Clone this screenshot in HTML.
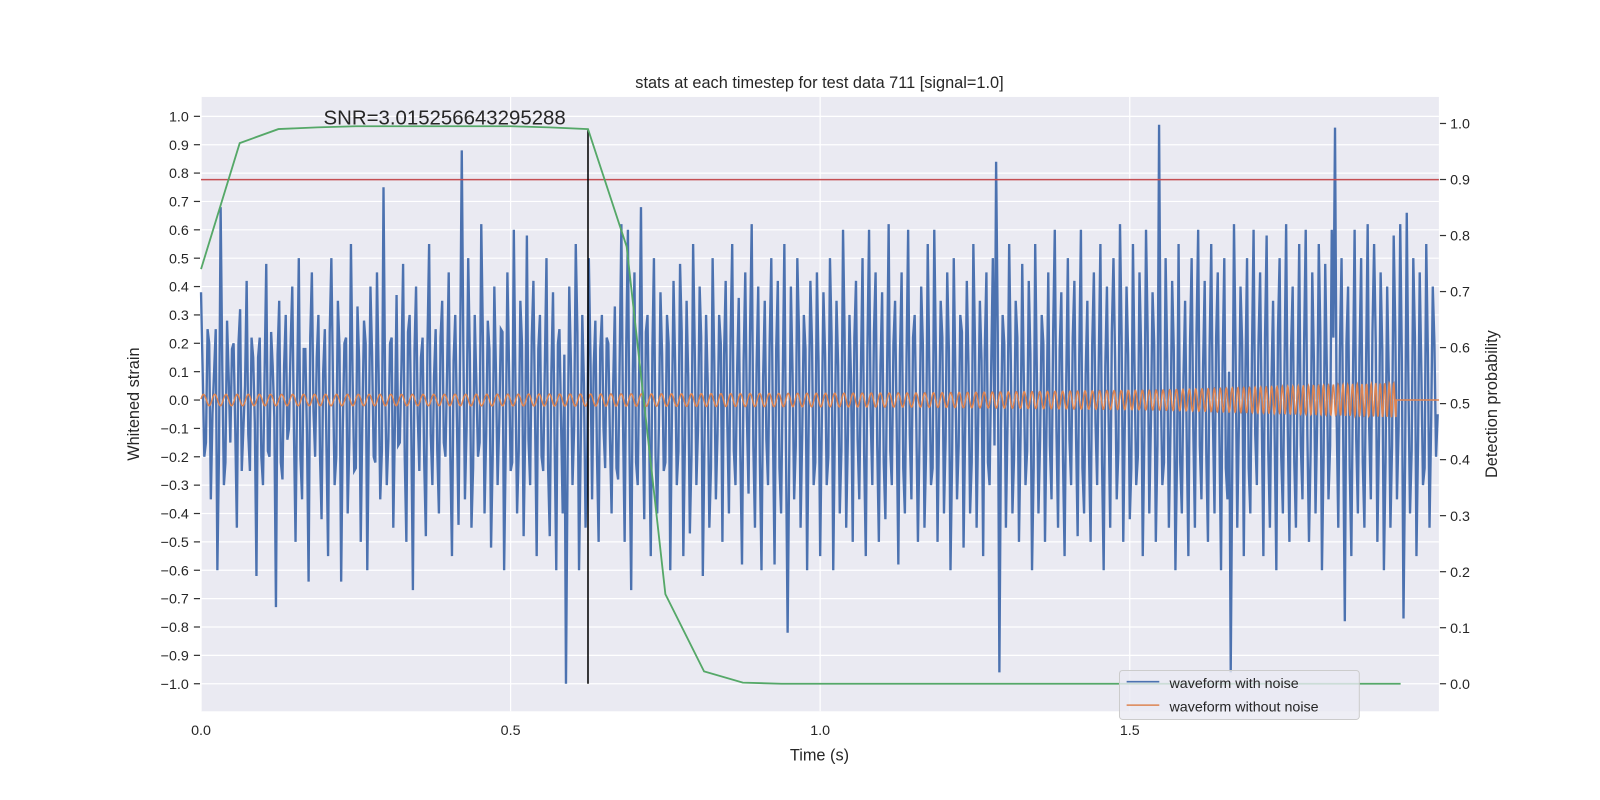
<!DOCTYPE html>
<html><head><meta charset="utf-8"><style>
html,body{margin:0;padding:0;background:#fff;overflow:hidden;width:1600px;height:800px;}
svg{display:block;}
svg text{font-family:"Liberation Sans","DejaVu Sans",sans-serif;fill:#262626;}
</style></head><body>
<svg id="chart" width="1600" height="800" xmlns="http://www.w3.org/2000/svg">
<g transform="scale(1.0205)">
<rect x="197" y="95" width="1213" height="602" fill="#EAEAF2"/>
<g id="grid"></g>
<g id="series"></g>
<g id="axes"></g>
<text x="803" y="86" text-anchor="middle" font-size="16">stats at each timestep for test data 711 [signal=1.0]</text>
<text x="317" y="122" font-size="20">SNR=3.015256643295288</text>
<text x="803" y="745" text-anchor="middle" font-size="16">Time (s)</text>
<text transform="translate(136,396) rotate(-90)" text-anchor="middle" font-size="16">Whitened strain</text>
<text transform="translate(1467,396) rotate(-90)" text-anchor="middle" font-size="16">Detection probability</text>
<g>
<rect x="1097" y="657" width="235" height="48" rx="3" fill="#EAEAF2" fill-opacity="0.8" stroke="#ccc"/>
<line x1="1104" y1="668" x2="1136" y2="668" stroke="#4C72B0" stroke-width="1.5"/>
<text x="1146" y="674" font-size="14">waveform with noise</text>
<line x1="1104" y1="691" x2="1136" y2="691" stroke="#DD8452" stroke-width="1.5"/>
<text x="1146" y="697" font-size="14">waveform without noise</text>
</g>
</g>
</svg>
<script>
const noisy=[0.38,-0.2,0.25,-0.35,0.1,-0.6,0.68,-0.3,0.28,-0.15,0.2,-0.45,0.32,-0.1,0.42,-0.25,0.15,-0.62,0.22,-0.3,
0.48,-0.2,0.12,-0.73,0.35,-0.28,0.3,-0.1,0.4,-0.5,0.5,-0.35,0.18,-0.64,0.45,-0.2,0.3,-0.42,0.25,-0.55,
0.5,-0.3,0.35,-0.64,0.2,-0.4,0.55,-0.25,0.33,-0.5,0.28,-0.6,0.4,-0.2,0.45,-0.35,0.75,-0.3,0.2,-0.45,
0.37,-0.15,0.48,-0.5,0.3,-0.67,0.4,-0.25,0.22,-0.48,0.55,-0.3,0.25,-0.4,0.35,-0.2,0.45,-0.55,0.3,-0.44,
0.88,-0.35,0.5,-0.45,0.3,-0.2,0.62,-0.4,0.28,-0.52,0.4,-0.3,0.25,-0.6,0.45,-0.25,0.6,-0.4,0.35,-0.48,
0.58,-0.3,0.42,-0.55,0.3,-0.25,0.5,-0.48,0.38,-0.6,0.25,-0.4,-1.0,0.4,-0.3,0.55,-0.6,0.3,-0.45,0.5,
-0.35,0.28,-0.5,0.3,-0.24,0.2,-0.4,0.33,-0.28,0.62,-0.5,0.6,-0.67,0.45,-0.3,0.68,-0.42,0.3,-0.55,0.5,
-0.4,0.38,-0.25,0.3,-0.6,0.42,-0.3,0.48,-0.55,0.35,-0.47,0.55,-0.3,0.4,-0.62,0.3,-0.45,0.5,-0.35,0.3,
-0.5,0.42,-0.4,0.55,-0.3,0.36,-0.58,0.45,-0.33,0.62,-0.45,0.4,-0.6,0.35,-0.3,0.5,-0.58,0.42,-0.4,0.55,
-0.82,0.4,-0.35,0.5,-0.45,0.3,-0.6,0.42,-0.3,0.45,-0.55,0.38,-0.3,0.5,-0.6,0.35,-0.4,0.6,-0.45,0.3,
-0.5,0.42,-0.35,0.5,-0.55,0.6,-0.3,0.45,-0.5,0.38,-0.42,0.62,-0.3,0.35,-0.58,0.45,-0.4,0.6,-0.35,0.3,
-0.5,0.4,-0.45,0.55,-0.3,0.6,-0.5,0.35,-0.4,0.45,-0.6,0.5,-0.35,0.3,-0.52,0.42,-0.4,0.55,-0.45,0.35,
-0.55,0.45,-0.3,0.5,0.84,-0.96,0.3,-0.45,0.55,-0.4,0.35,-0.5,0.48,-0.3,0.42,-0.6,0.55,-0.4,0.3,-0.5,
0.45,-0.35,0.6,-0.45,0.38,-0.55,0.5,-0.3,0.42,-0.48,0.6,-0.4,0.35,-0.5,0.45,-0.3,0.55,-0.6,0.4,-0.45,
0.5,-0.35,0.62,-0.5,0.4,-0.42,0.55,-0.3,0.45,-0.55,0.6,-0.4,0.38,-0.5,0.97,-0.3,0.5,-0.45,0.42,-0.6,
0.55,-0.4,0.35,-0.55,0.5,-0.45,0.6,-0.35,0.42,-0.5,0.55,-0.4,0.45,-0.6,0.5,-0.35,-0.96,0.62,-0.45,0.4,
-0.55,0.5,-0.4,0.6,-0.3,0.45,-0.55,0.58,-0.45,0.35,-0.6,0.5,-0.4,0.62,-0.5,0.4,-0.45,0.55,-0.35,0.6,
-0.5,0.45,-0.4,0.55,-0.6,0.48,-0.35,0.6,0.96,-0.45,0.5,-0.78,0.4,-0.55,0.6,-0.4,0.5,-0.45,0.62,-0.35,
0.55,-0.5,0.45,-0.6,0.4,-0.45,0.58,-0.35,0.62,-0.77,0.66,-0.4,0.5,-0.55,0.45,-0.3,0.55,-0.45,0.4,-0.2];
const noisyMid=[0.1,-0.15,0.2,-0.05,0.25,-0.18,0.12,-0.22,0.08,0.18,-0.1,0.2,-0.25,0.05,-0.12,0.22,-0.08,0.15,-0.2,0.1,
-0.18,0.24,-0.06,0.16,-0.22,0.12,-0.14,0.2,-0.1,0.05,-0.2,0.18,-0.12,0.22,-0.04,0.15,-0.2,0.1,-0.16,0.24,
0.06,-0.2,0.18,-0.1,0.22,-0.15,0.08,-0.24,0.14,-0.06,0.2,-0.12,0.16,-0.22,0.1,-0.18,0.04,-0.14,0.22,-0.08,
-0.16,0.12,-0.2,0.24,-0.1,0.18,-0.05,0.15,-0.22,0.2,-0.12,0.08,-0.18,0.22,-0.15,0.1,-0.2,0.14,-0.06,0.18,
0.2,-0.1,0.16,-0.24,0.06,-0.15,0.22,-0.12,0.18,-0.2,0.1,-0.08,0.24,-0.16,0.12,-0.22,0.05,-0.18,0.2,-0.1,
-0.14,0.22,-0.06,0.18,-0.2,0.12,-0.24,0.1,-0.15,0.2,-0.08,0.16,-0.22,0.14,-0.1,0.24,-0.18,0.06,-0.2,0.15,
0.12,-0.2,0.18,-0.1,0.22,-0.14,0.06,-0.24,0.16,-0.08,0.2,-0.18,0.1,-0.22,0.14,-0.05,0.24,-0.12,0.18,-0.2,
-0.1,0.16,-0.22,0.2,-0.06,0.12,-0.18,0.24,-0.14,0.08,-0.2,0.18,-0.1,0.22,-0.16,0.06,-0.24,0.14,-0.12,0.2,
0.16,-0.08,0.22,-0.18,0.1,-0.2,0.14,-0.06,0.24,-0.16,0.12,-0.22,0.08,-0.14,0.2,-0.1,0.18,-0.24,0.06,-0.18,
-0.2,0.1,-0.16,0.24,-0.12,0.18,-0.06,0.2,-0.22,0.14,-0.08,0.16,-0.2,0.22,-0.1,0.12,-0.18,0.24,-0.14,0.06,
0.22,-0.14,0.1,-0.2,0.18,-0.06,0.24,-0.16,0.12,-0.22,0.08,-0.18,0.2,-0.1,0.16,-0.24,0.14,-0.12,0.22,-0.08,
-0.12,0.2,-0.18,0.1,-0.24,0.16,-0.06,0.22,-0.14,0.18,-0.2,0.08,-0.16,0.24,-0.1,0.12,-0.22,0.2,-0.06,0.14,
0.18,-0.22,0.12,-0.16,0.24,-0.1,0.2,-0.08,0.14,-0.2,0.22,-0.12,0.06,-0.18,0.16,-0.24,0.1,-0.14,0.2,-0.06,
-0.16,0.24,-0.1,0.18,-0.2,0.06,-0.14,0.22,-0.12,0.16,-0.24,0.1,-0.18,0.2,-0.08,0.14,-0.22,0.12,-0.06,0.24,
0.14,-0.18,0.22,-0.06,0.16,-0.24,0.1,-0.2,0.18,-0.12,0.24,-0.08,0.2,-0.16,0.06,-0.22,0.14,-0.1,0.18,-0.2,
-0.22,0.08,-0.14,0.2,-0.1,0.24,-0.16,0.12,-0.2,0.18,-0.06,0.22,-0.12,0.14,-0.24,0.1,-0.18,0.16,-0.08,0.2,
0.1,-0.24,0.16,-0.12,0.2,-0.06,0.22,-0.18,0.08,-0.14,0.24,-0.2,0.12,-0.1,0.18,-0.22,0.06,-0.16,0.2,-0.12,
-0.18,0.14,-0.08,0.24,-0.2,0.1,-0.16,0.22,-0.06,0.18,-0.12,0.2,-0.24,0.08,-0.14,0.16,-0.22,0.12,-0.1,0.24,
0.2,-0.12,0.18,-0.22,0.08,-0.16,0.24,-0.1,0.14,-0.2,0.06,-0.18,0.22,-0.14,0.1,-0.24,0.16,-0.08,0.2,-0.05];
const probTimes=[0,0.0625,0.125,0.1875,0.25,0.3125,0.375,0.4375,0.5,0.5625,0.625,0.6875,0.75,0.8125,0.875,0.9375,1.0,1.0625,1.125,1.1875,1.25,1.3125,1.375,1.4375,1.5,1.5625,1.625,1.6875,1.75,1.8125,1.875,1.9375];
const probValues=[0.74,0.965,0.99,0.993,0.995,0.995,0.995,0.995,0.995,0.993,0.99,0.78,0.16,0.022,0.002,0,0,0,0,0,0,0,0,0,0,0,0,0,0,0,0,0];
const leftTicks=[-1.0,-0.9,-0.8,-0.7,-0.6,-0.5,-0.4,-0.3,-0.2,-0.1,0.0,0.1,0.2,0.3,0.4,0.5,0.6,0.7,0.8,0.9,1.0];
const rightTicks=[0.0,0.1,0.2,0.3,0.4,0.5,0.6,0.7,0.8,0.9,1.0];
const xTicks=[0,0.5,1.0,1.5];
const threshold=[0.777];
const markerTime=[0.625];
const chirpAmp=[0.02,0.02,0.022,0.025,0.035,0.06];
const chirpFreq=[55,58,62,70,90,140];
const chirpEnd=[1.93];

const NS='http://www.w3.org/2000/svg';
const X=t=>197+t*606.7, YL=v=>392-v*278, YR=v=>670-v*549;
function mk(tag,attrs,parent){const e=document.createElementNS(NS,tag);for(const k in attrs)e.setAttribute(k,attrs[k]);document.getElementById(parent).appendChild(e);return e;}
const fmt=v=>(v<0?'\u2212':'')+Math.abs(v).toFixed(1);
leftTicks.forEach(v=>{const g=mk('line',{x1:197,x2:1410,y1:YL(v),y2:YL(v),stroke:'#fff','stroke-width':1.2},'grid');


const tk=mk('line',{x1:190,x2:196,y1:YL(v),y2:YL(v),stroke:'#333','stroke-width':1.2},'axes');


const t=mk('text',{x:185,y:YL(v)+5,'text-anchor':'end','font-size':14},'axes');t.textContent=fmt(v);

});
xTicks.forEach(v=>{const g=mk('line',{x1:X(v),x2:X(v),y1:95,y2:697,stroke:'#fff','stroke-width':1.2},'grid');


const t=mk('text',{x:X(v),y:720,'text-anchor':'middle','font-size':14},'axes');t.textContent=v.toFixed(1);

});
rightTicks.forEach(v=>{const tk=mk('line',{x1:1411,x2:1417,y1:YR(v),y2:YR(v),stroke:'#333','stroke-width':1.2},'axes');


const t=mk('text',{x:1421,y:YR(v)+5,'font-size':14},'axes');t.textContent=v.toFixed(1);

});
const series=[];noisy.forEach((v,i)=>{series.push(v);series.push(noisyMid[i]);});
let d='';series.forEach((v,i)=>{d+=(i?'L':'M')+X(i*2/series.length).toFixed(1)+' '+YL(v).toFixed(1);});
const pn=mk('path',{d:d,fill:'none',stroke:'#4C72B0','stroke-width':2.3},'series');


function interp(arr,f){const p=f*(arr.length-1),i=Math.min(Math.floor(p),arr.length-2),r=p-i;return arr[i]*(1-r)+arr[i+1]*r;}
let dc='',ph=0,dt=0.0005;for(let t=0;t<=1.9995;t+=dt){let v=0;if(t<chirpEnd[0]){const f=t/chirpEnd[0];ph+=2*Math.PI*interp(chirpFreq,f)*dt;v=interp(chirpAmp,f)*Math.sin(ph);}dc+=(dc?'L':'M')+X(t).toFixed(1)+' '+YL(v).toFixed(2);}
const pc=mk('path',{d:dc,fill:'none',stroke:'#DD8452','stroke-width':1.5},'series');


const th=mk('line',{x1:197,x2:1410,y1:YL(threshold[0]),y2:YL(threshold[0]),stroke:'#C44E52','stroke-width':1.5},'series');


const vm=mk('line',{x1:X(markerTime[0]),x2:X(markerTime[0]),y1:YL(-1),y2:127,stroke:'#000','stroke-width':1.5},'series');


let dp='';probTimes.forEach((t,i)=>{dp+=(i?'L':'M')+X(t).toFixed(1)+' '+YR(probValues[i]).toFixed(1);});
const pp=mk('path',{d:dp,fill:'none',stroke:'#55A868','stroke-width':1.8},'series');


</script>
</body></html>
